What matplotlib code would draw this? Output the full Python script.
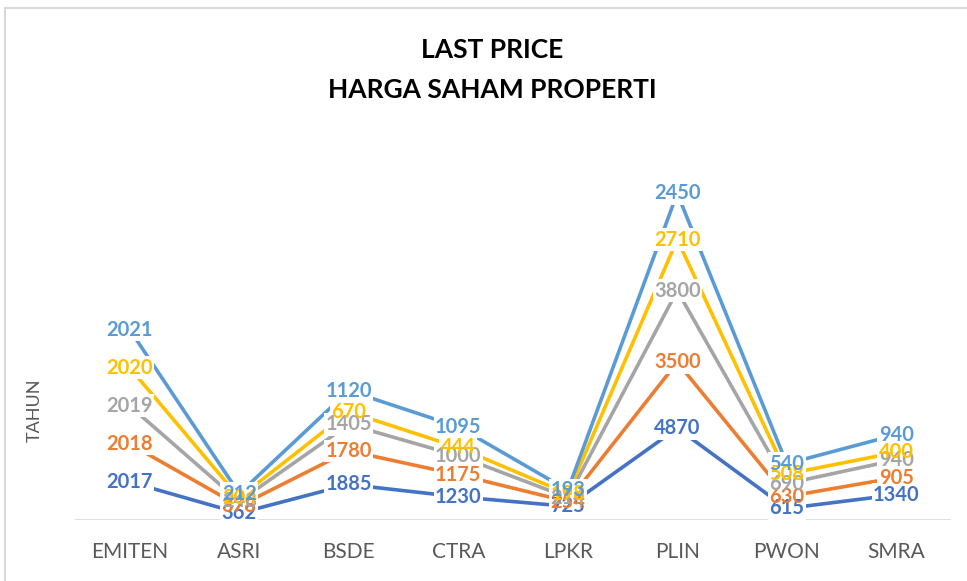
import numpy as np
import matplotlib.pyplot as plt
from matplotlib.patches import Rectangle

emiten = ['EMITEN', 'ASRI', 'BSDE', 'CTRA', 'LPKR', 'PLIN', 'PWON', 'SMRA']
tahun = ['2017', '2018', '2019', '2020', '2021']

h2017 = [2017, 362, 1885, 1230, 725, 4870, 615, 1340]
h2018 = [2018, 378, 1780, 1175, 254, 3500, 630, 905]
h2019 = [2019, 248, 1405, 1000, 214, 3800, 690, 940]
h2020 = [2020, 204, 670, 444, 198, 2710, 508, 400]
h2021 = [2021, 212, 1120, 1095, 193, 2450, 540, 940]

warna = ['#4472C4', '#ED7D31', '#A5A5A5', '#FFC000', '#5B9BD5']
seri = [h2017, h2018, h2019, h2020, h2021]

plt.rcParams['font.family'] = ['Lato', 'DejaVu Sans']

fig = plt.figure(figsize=(9.67, 5.81), dpi=100)
W, H = 967, 581
ax = fig.add_axes([75 / W, (H - 520) / H, (951 - 75) / W, (520 - 143) / H])

# bingkai chart
fig.patches.append(Rectangle((5 / W, -0.1), 1.2, (H - 8) / H + 0.1, transform=fig.transFigure,
                             fill=False, edgecolor='#D9D9D9', linewidth=1.5))

x = np.arange(len(emiten))
kumulatif = np.zeros(len(emiten))
titik = []
for nilai, c in zip(seri, warna):
    kumulatif = kumulatif + np.array(nilai)
    ax.plot(x, kumulatif, color=c, linewidth=2.6, zorder=2, solid_capstyle='butt')
    titik.append(kumulatif.copy())

# label data (kotak putih dulu, lalu teks)
for nilai, y, c in zip(seri, titik, warna):
    for xi, yi, v in zip(x, y, nilai):
        ax.text(xi, yi, str(v), ha='center', va='center', fontsize=14.5, fontweight='bold',
                color='none', zorder=3,
                bbox=dict(facecolor='white', edgecolor='none', pad=1.0))
for nilai, y, c in zip(seri, titik, warna):
    for xi, yi, v in zip(x, y, nilai):
        ax.text(xi, yi, str(v), ha='center', va='center', fontsize=14.5, fontweight='bold',
                color=c, zorder=4)

ax.set_xlim(-0.5, len(emiten) - 0.5)
ax.set_ylim(0, 20000)
ax.axhline(0, color='#D9D9D9', linewidth=1.2, zorder=1)
for s in ax.spines.values():
    s.set_visible(False)
ax.set_yticks([])
ax.set_xticks(x)
ax.set_xticklabels(emiten, fontsize=15, color='#595959')
ax.tick_params(axis='x', length=0, pad=16)

fig.text(35 / W, (H - 410) / H, 'TAHUN', rotation=90, ha='center', va='center',
         fontsize=13, color='#595959')

fig.text(492 / W, (H - 50) / H, 'LAST PRICE', ha='center', va='center',
         fontsize=19, fontweight='bold', color='black')
fig.text(492 / W, (H - 90) / H, 'HARGA SAHAM PROPERTI', ha='center', va='center',
         fontsize=19, fontweight='bold', color='black')

plt.savefig('out.png', dpi=100)
